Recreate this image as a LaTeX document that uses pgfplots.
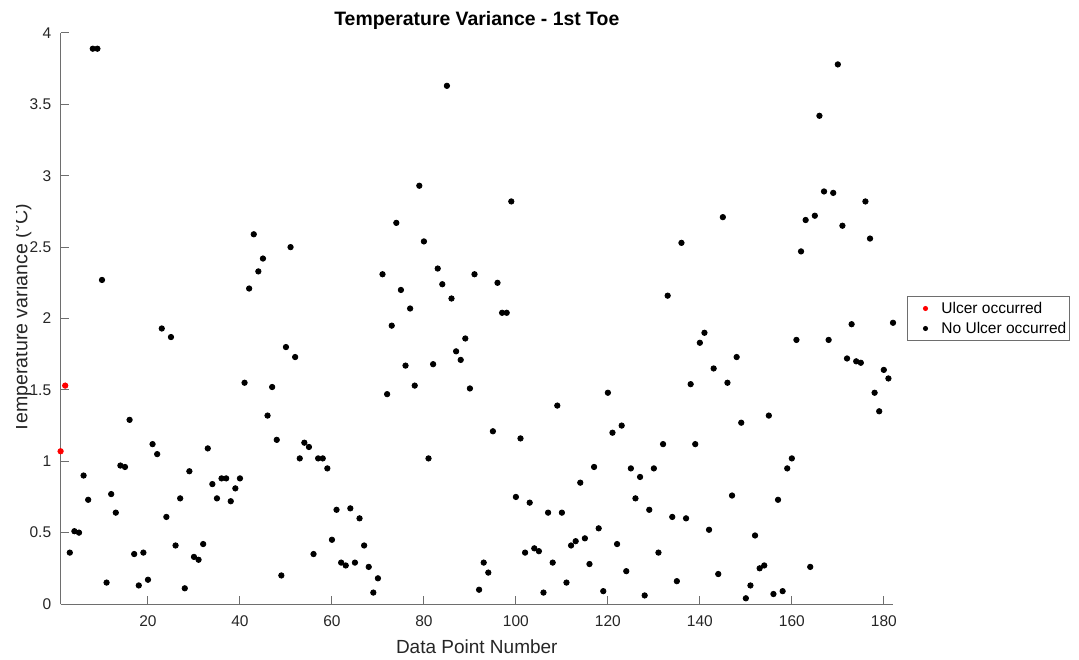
\documentclass[border=0pt]{standalone}
\usepackage{pgfplots}
\pgfplotsset{compat=1.18}
\usetikzlibrary{calc}
\usepackage{fontspec}
\setmainfont{Liberation Sans}

\definecolor{axgray}{RGB}{38,38,38}
\definecolor{lingray}{RGB}{110,110,110}

% Temperature variance of the first toe, one value per data point
\pgfplotstableread{
x y
3 0.36
4 0.51
5 0.50
6 0.90
7 0.73
8 3.89
9 3.89
10 2.27
11 0.15
12 0.77
13 0.64
14 0.97
15 0.96
16 1.29
17 0.35
18 0.13
19 0.36
20 0.17
21 1.12
22 1.05
23 1.93
24 0.61
25 1.87
26 0.41
27 0.74
28 0.11
29 0.93
30 0.33
31 0.31
32 0.42
33 1.09
34 0.84
35 0.74
36 0.88
37 0.88
38 0.72
39 0.81
40 0.88
41 1.55
42 2.21
43 2.59
44 2.33
45 2.42
46 1.32
47 1.52
48 1.15
49 0.20
50 1.80
51 2.50
52 1.73
53 1.02
54 1.13
55 1.10
56 0.35
57 1.02
58 1.02
59 0.95
60 0.45
61 0.66
62 0.29
63 0.27
64 0.67
65 0.29
66 0.60
67 0.41
68 0.26
69 0.08
70 0.18
71 2.31
72 1.47
73 1.95
74 2.67
75 2.20
76 1.67
77 2.07
78 1.53
79 2.93
80 2.54
81 1.02
82 1.68
83 2.35
84 2.24
85 3.63
86 2.14
87 1.77
88 1.71
89 1.86
90 1.51
91 2.31
92 0.10
93 0.29
94 0.22
95 1.21
96 2.25
97 2.04
98 2.04
99 2.82
100 0.75
101 1.16
102 0.36
103 0.71
104 0.39
105 0.37
106 0.08
107 0.64
108 0.29
109 1.39
110 0.64
111 0.15
112 0.41
113 0.44
114 0.85
115 0.46
116 0.28
117 0.96
118 0.53
119 0.09
120 1.48
121 1.20
122 0.42
123 1.25
124 0.23
125 0.95
126 0.74
127 0.89
128 0.06
129 0.66
130 0.95
131 0.36
132 1.12
133 2.16
134 0.61
135 0.16
136 2.53
137 0.60
138 1.54
139 1.12
140 1.83
141 1.90
142 0.52
143 1.65
144 0.21
145 2.71
146 1.55
147 0.76
148 1.73
149 1.27
150 0.04
151 0.13
152 0.48
153 0.25
154 0.27
155 1.32
156 0.07
157 0.73
158 0.09
159 0.95
160 1.02
161 1.85
162 2.47
163 2.69
164 0.26
165 2.72
166 3.42
167 2.89
168 1.85
169 2.88
170 3.78
171 2.65
172 1.72
173 1.96
174 1.70
175 1.69
176 2.82
177 2.56
178 1.48
179 1.35
180 1.64
181 1.58
182 1.97
}\noulcer

\begin{document}
\begin{tikzpicture}
\begin{axis}[
  scale only axis,
  width=416.2pt, height=285.5pt,
  xmin=1, xmax=182, ymin=0, ymax=4,
  xtick={20,40,...,180},
  ytick={0,0.5,...,4},
  axis x line=bottom, axis y line=left,
  axis line style={-, draw=lingray, line width=0.5pt},
  tick align=inside,
  major tick length=4pt,
  tick style={draw=lingray, line width=0.5pt},
  clip=false,
  /pgf/number format/assume math mode=true,
  ticklabel style={font=\fontsize{7.75}{9}\selectfont, text=axgray},
  xticklabel style={anchor=base, yshift=-11.25pt},
  yticklabel style={anchor=east, xshift=-1.2pt},
  every axis title shift=0pt,
  title={Temperature Variance - 1st Toe},
  title style={font=\fontsize{9.7}{11}\selectfont\bfseries, text=black,
    at={(axis description cs:0.5,1)}, anchor=base, yshift=3.75pt},
  xlabel={Data Point Number},
  xlabel style={font=\fontsize{9.5}{11}\selectfont, text=axgray,
    at={(axis description cs:0.5,0)}, anchor=base, yshift=-24.5pt},
  ylabel={Temperature variance (°C)},
  every axis y label/.style={name=ylab, font=\fontsize{9.8}{11}\selectfont, text=axgray,
    at={(axis description cs:-0.0398,0.5)}, rotate=90, anchor=base},
  legend style={at={(axis description cs:1.0168,0.5)}, anchor=west,
    draw=lingray, line width=0.5pt, fill=white,
    inner xsep=1.5pt, inner ysep=2.25pt, row sep=2.5pt,
    font=\fontsize{7.75}{9}\selectfont, text=black,
    nodes={inner sep=0pt, text height=6pt, text depth=1.5pt}},
  legend cell align=left,
  legend image code/.code={%
    \path[draw=none, fill=none] (-7.5pt,-3.75pt) rectangle (8pt,3.75pt);
    \draw[#1, mark size=1pt] plot coordinates {(0pt,0pt)};},
]
\addplot[only marks, mark=*, mark size=1.35pt, color=red, mark options={draw=red, fill=red}]
  coordinates {(1,1.07) (2,1.53)};
\addlegendentry{Ulcer occurred}
\addplot[only marks, mark=*, mark size=1.35pt, color=black, mark options={draw=black, fill=black}]
  table[x=x, y=y] {\noulcer};
\addlegendentry{No Ulcer occurred}
\end{axis}
% the y label is trimmed at the left border of the figure, just below cap height
\fill[white] let \p1=(ylab.base) in (-31pt,-28pt) rectangle (\x1-5.6pt,303pt);
\pgfresetboundingbox
\useasboundingbox (-30.3pt,-27.5pt) rectangle (509.2pt,302pt);
\end{tikzpicture}
\end{document}
